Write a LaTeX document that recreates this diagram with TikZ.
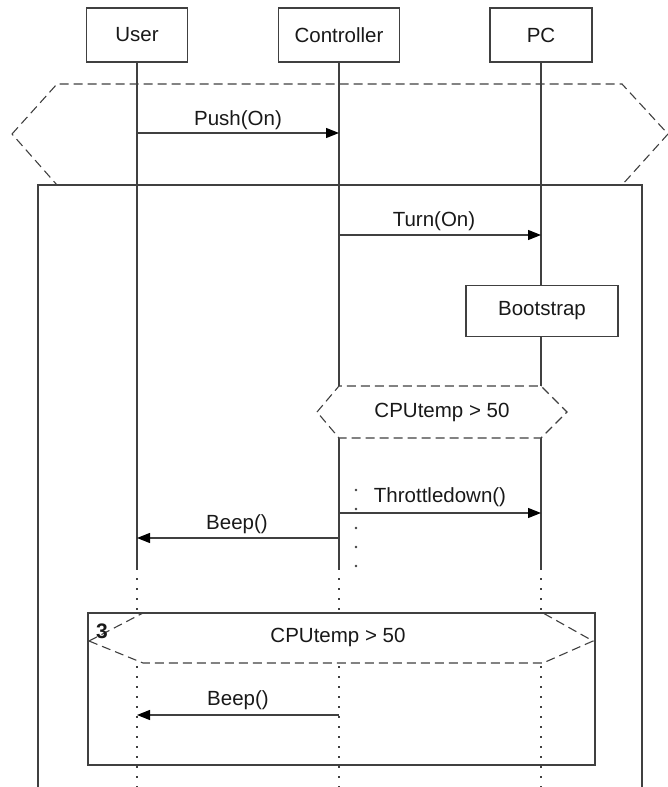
\documentclass[tikz,border=0pt]{standalone}
\usepackage{fontspec}
\setmainfont{Liberation Sans}
\usetikzlibrary{arrows.meta}
\definecolor{ln}{gray}{0.25}
\begin{document}
\begin{tikzpicture}[x=1pt,y=-1pt,
  every node/.style={font=\fontsize{20.5}{24}\selectfont, text=black!90},
  obj/.style={draw=ln, line width=1.2pt, minimum height=54pt, inner sep=0pt, fill=white},
  life/.style={draw=ln, line width=1.1pt},
  dotlife/.style={draw=ln, line width=1.6pt, dash pattern=on 1.6pt off 8.4pt},
  msg/.style={draw=ln, line width=1.3pt, -{Triangle[length=13pt,width=10pt,color=black]}},
  frag/.style={draw=ln, line width=1.1pt, dash pattern=on 9pt off 5pt},
  solidframe/.style={draw=ln, line width=1.2pt},
  lbl/.style={inner sep=0pt}]
\useasboundingbox (0,0) rectangle (668,787);

% big frame
\draw[solidframe] (38,790) -- (38,185) -- (642,185) -- (642,790);
% top condition hexagon
\draw[frag] (12,134) -- (57,84) -- (622,84) -- (668,134) -- (622,185) -- (57,185) -- cycle;

% objects
\node[obj, minimum width=101pt] (user) at (137,35) {User};
\node[obj, minimum width=121pt] (ctrl) at (339,35) {Controller};
\node[obj, minimum width=102pt] (pc) at (541,35) {PC};

% lifeline coordinates
\coordinate (uEnd) at (137,568);
\coordinate (cEnd) at (339,568);
\coordinate (pEnd) at (541,568);
\draw[life] (user.south) -- (uEnd);
\draw[life] (ctrl.south) -- (cEnd);
\draw[life] (pc.south) -- (pEnd);

% bootstrap
\node[obj, minimum width=152pt, minimum height=51pt] (boot) at (542,311) {Bootstrap};

% inner condition
\draw[frag, fill=white] (317,412) -- (339,386) -- (541,386) -- (567,412) -- (541,438) -- (339,438) -- cycle;
\node[lbl] (cond1) at (442,412) {CPUtemp > 50};

% messages
\coordinate (u1) at (137,133); \coordinate (c1) at (339,133);
\draw[msg] (u1) -- (c1);
\node[lbl] (m1) at (238,120) {Push(On)};
\coordinate (c2) at (339,235); \coordinate (p2) at (541,235);
\draw[msg] (c2) -- (p2);
\node[lbl] (m2) at (434,221) {Turn(On)};
\coordinate (c3) at (339,513); \coordinate (p3) at (541,513);
\draw[msg] (c3) -- (p3);
\node[lbl] (m3) at (440,497) {Throttledown()};
\coordinate (c4) at (339,538); \coordinate (u4) at (137,538);
\draw[msg] (c4) -- (u4);
\node[lbl] (m4) at (237,524) {Beep()};

% dots
\foreach \yy in {490,509,528,547,566} \fill[ln] (356,\yy) circle (1.4pt);

% dotted lifelines above loop
\coordinate (uTop) at (137,613); \coordinate (cTop) at (339,613); \coordinate (pTop) at (541,613);
\draw[dotlife] (uEnd) -- (uTop);
\draw[dotlife] (cEnd) -- (cTop);
\draw[dotlife] (pEnd) -- (pTop);

% loop frame
\fill[white] (88,613) rectangle (595,765);
\draw[frag, fill=white] (89,641) -- (143,613) -- (543,613) -- (593,641) -- (543,663) -- (143,663) -- cycle;
\draw[solidframe] (88,613) rectangle (595,765);
\node[lbl] (cond2) at (338,637) {CPUtemp > 50};
\node[lbl, font=\fontsize{21}{24}\selectfont\bfseries] (cnt) at (102,631) {3};

% dotted lifelines below
\coordinate (uB) at (137,666); \coordinate (cB) at (339,666); \coordinate (pB) at (541,666);
\coordinate (uZ) at (137,787); \coordinate (cZ) at (339,787); \coordinate (pZ) at (541,787);
\draw[dotlife] (uB) -- (uZ);
\draw[dotlife] (cB) -- (cZ);
\draw[dotlife] (pB) -- (pZ);

% loop message
\coordinate (c5) at (339,715); \coordinate (u5) at (137,715);
\draw[msg] (c5) -- (u5);
\node[lbl] (m5) at (238,700) {Beep()};
\end{tikzpicture}
\end{document}
